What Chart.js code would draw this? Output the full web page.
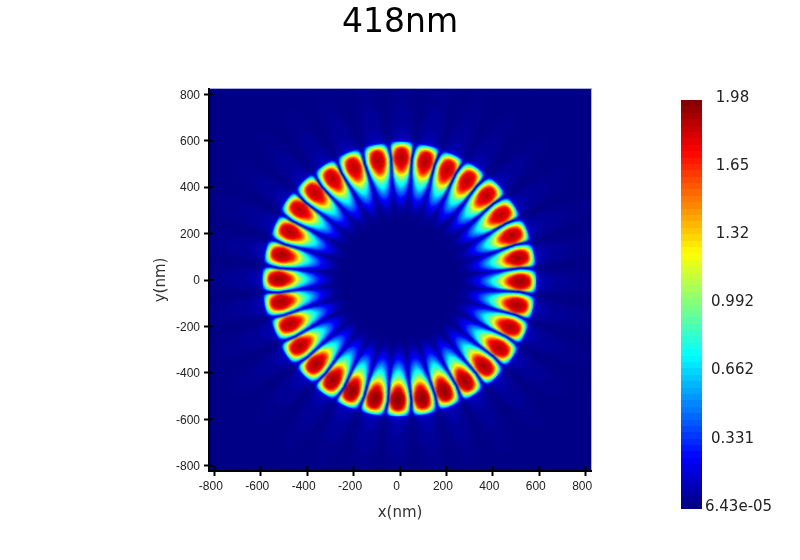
<!DOCTYPE html>
<html>
<head>
<meta charset="utf-8">
<title>418nm</title>
<script src="https://cdn.jsdelivr.net/npm/chart.js@4/dist/chart.umd.min.js"></script>
<style>
  html, body { margin: 0; background: #fff; }
  #wrap { position: relative; width: 800px; height: 560px; overflow: hidden; }
  #mapChart { position: absolute; left: 0; top: 0; }
  #barChart { position: absolute; left: 681px; top: 80px; }
</style>
</head>
<body>
<div id="wrap">
  <canvas id="mapChart" width="800" height="560"></canvas>
  <canvas id="barChart" width="110" height="440"></canvas>
</div>
<script>
'use strict';

/* ── DATA: the 32 lobes, clockwise from the top ── */
const lobeX = [6, 108, 203, 289, 371, 434, 481, 509, 517, 504, 474, 427, 362, 280, 190, 95,
  -9, -108, -207, -289, -362, -431, -474, -513, -522, -509, -474, -431, -366, -289, -198, -95];
const lobeY = [526, 509, 474, 427, 362, 280, 191, 95, -7, -108, -203, -293, -371, -435, -478, -509,
  -517, -509, -478, -431, -362, -284, -190, -95, 4, 108, 207, 302, 375, 435, 483, 513];
const lobePeak = [1.9, 1.9, 1.88, 1.88, 1.88, 1.88, 1.9, 1.92, 1.94, 1.92, 1.9, 1.9, 1.92, 1.94, 1.96, 1.97,
  1.98, 1.97, 1.96, 1.94, 1.92, 1.9, 1.9, 1.92, 1.94, 1.92, 1.9, 1.88, 1.88, 1.88, 1.88, 1.9];

const xTicks = [-800, -600, -400, -200, 0, 200, 400, 600, 800];
const yTicks = [-800, -600, -400, -200, 0, 200, 400, 600, 800];
const colorTickValues = [1.98, 1.65, 1.32, 0.992, 0.662, 0.331, 0.0000643];
const colorTickLabels = ['1.98', '1.65', '1.32', '0.992', '0.662', '0.331', '6.43e-05'];
const colorMin = 0.0000643;
const colorMax = 1.98;

const AXIS_LIMIT = 823;
const LEVELS = 64;
const LABEL_FONT = "'DejaVu Sans', sans-serif";
const TICK_FONT = "'Liberation Sans', sans-serif";

/* ── JET COLOURMAP ── */
function clamp01(v) { return Math.max(0, Math.min(1, v)); }

function jet(t) {
  const lvl = Math.min(LEVELS - 1, Math.floor(clamp01(t) * LEVELS));
  const c = (lvl + 0.5) / LEVELS;
  return [
    Math.round(255 * clamp01(Math.min(4 * c - 1.5, -4 * c + 4.5))),
    Math.round(255 * clamp01(Math.min(4 * c - 0.5, -4 * c + 3.5))),
    Math.round(255 * clamp01(Math.min(4 * c + 0.5, -4 * c + 2.5)))
  ];
}

/* ── LOBE SPRITE: shape of one lobe, used as the point style ──
   each table turns a pixel distance into a contour index, the contour
   index gives the level, so the contours come out as rounded ovals */
const OUTER_RHO = [[0, 0], [8.5, 0.4], [10, 0.5], [11.5, 0.62], [13, 0.74], [14.2, 0.87], [15.5, 1], [17, 1.3], [19, 1.5], [30, 1.65], [60, 1.85], [110, 2.4]];
const INNER_RHO = [[0, 0], [8.5, 0.4], [12, 0.5], [15, 0.62], [18, 0.74], [22, 0.87], [28, 1], [34, 1.12], [41, 1.3], [52, 1.6], [70, 2.4]];
const SIDE_RHO = [[0, 0], [5.5, 0.4], [7, 0.5], [8.2, 0.62], [9.5, 0.74], [10.5, 0.87], [11.5, 1], [13, 1.3], [14.5, 1.6], [17, 2.4]];
const LEVEL_OF_RHO = [[0, 1], [0.4, 0.94], [0.5, 0.875], [0.62, 0.75], [0.74, 0.625], [0.87, 0.5], [1, 0.375], [1.12, 0.25], [1.3, 0.125], [1.5, 0.07], [1.65, 0.05], [1.85, 0.03], [2.4, 0]];

function lookup(table, d) {
  for (let i = 1; i < table.length; i++) {
    if (d <= table[i][0]) {
      const [x0, y0] = table[i - 1];
      const [x1, y1] = table[i];
      return y0 + (y1 - y0) * (d - x0) / (x1 - x0);
    }
  }
  return table[table.length - 1][1];
}

const spriteCache = {};

function lobeSprite(peak) {
  if (spriteCache[peak]) return spriteCache[peak];
  const cv = document.createElement('canvas');
  cv.width = 72;
  cv.height = 230;
  const c = cv.getContext('2d');
  const img = c.createImageData(cv.width, cv.height);
  for (let py = 0; py < cv.height; py++) {
    for (let px = 0; px < cv.width; px++) {
      const u = cv.height / 2 - py - 0.5;
      const w = Math.abs(px + 0.5 - cv.width / 2);
      const ru = u >= 0 ? lookup(OUTER_RHO, u) : lookup(INNER_RHO, -u);
      const wedge = u >= 0 ? 1 : Math.max(0.3, 1 + u / 110);
      const rw = w / wedge > 17 ? 9 : lookup(SIDE_RHO, w / wedge);
      const val = lookup(LEVEL_OF_RHO, Math.hypot(ru, rw)) * peak / colorMax;
      const rgb = jet(val);
      const k = (py * cv.width + px) * 4;
      img.data[k] = rgb[0];
      img.data[k + 1] = rgb[1];
      img.data[k + 2] = rgb[2];
      img.data[k + 3] = Math.round(255 * clamp01(val / 0.08));
    }
  }
  c.putImageData(img, 0, 0);
  spriteCache[peak] = cv;
  return cv;
}

/* ── PLOT BACKGROUND AND INNER TICK HALVES ── */
const plotDecor = {
  id: 'plotDecor',
  beforeDatasetsDraw(chart) {
    const { ctx, chartArea: a } = chart;
    const base = jet(0);
    ctx.save();
    ctx.fillStyle = `rgb(${base[0]},${base[1]},${base[2]})`;
    ctx.fillRect(a.left, a.top, a.right - a.left, a.bottom - a.top);
    ctx.restore();
  },
  afterDatasetsDraw(chart) {
    const { ctx, chartArea: a, scales } = chart;
    ctx.save();
    ctx.strokeStyle = '#a9a9e6';
    ctx.lineWidth = 1;
    ctx.beginPath();
    ctx.moveTo(a.left, a.top - 0.5);
    ctx.lineTo(a.right + 0.5, a.top - 0.5);
    ctx.lineTo(a.right + 0.5, a.bottom);
    ctx.stroke();
    ctx.strokeStyle = '#000';
    ctx.lineWidth = 2;
    ctx.beginPath();
    xTicks.forEach(v => {
      const px = scales.x.getPixelForValue(v);
      ctx.moveTo(px, a.bottom);
      ctx.lineTo(px, a.bottom - 5);
    });
    yTicks.forEach(v => {
      const py = scales.y.getPixelForValue(v);
      ctx.moveTo(a.left, py);
      ctx.lineTo(a.left + 4, py);
    });
    ctx.stroke();
    ctx.restore();
  }
};

/* ── MAIN MAP ── */
new Chart(document.getElementById('mapChart'), {
  type: 'scatter',
  plugins: [plotDecor],
  data: {
    datasets: [{
      data: lobeX.map((x, i) => ({ x: x, y: lobeY[i] })),
      clip: 0,
      pointRadius: 5,
      pointStyle: ctx => lobeSprite(lobePeak[ctx.dataIndex]),
      rotation: ctx => Math.atan2(lobeX[ctx.dataIndex], lobeY[ctx.dataIndex]) * 180 / Math.PI
    }]
  },
  options: {
    responsive: false,
    animation: false,
    events: [],
    // equal side padding keeps the title centred on the page; spacer axis fills the rest
    layout: { padding: { left: 152, right: 152, top: 0, bottom: 38 } },
    plugins: {
      legend: { display: false },
      tooltip: { enabled: false },
      title: {
        display: true,
        text: '418nm',
        color: '#000',
        font: { family: LABEL_FONT, size: 33, weight: 'normal', lineHeight: 1.2 },
        padding: { top: 4, bottom: 45.4 }
      }
    },
    scales: {
      x: {
        type: 'linear',
        min: -AXIS_LIMIT,
        max: AXIS_LIMIT,
        afterBuildTicks: s => { s.ticks = xTicks.map(v => ({ value: v })); },
        afterFit: s => { s.height = 51; },
        grid: { drawOnChartArea: false, tickLength: 5, tickWidth: 2, tickColor: '#000', z: 1 },
        border: { color: '#000', width: 2, z: 1 },
        ticks: { color: '#222', font: { family: TICK_FONT, size: 12 }, padding: 3, maxRotation: 0, labelOffset: -3.5 },
        title: { display: true, text: 'x(nm)', color: '#333', font: { family: LABEL_FONT, size: 15 }, padding: 0 }
      },
      y: {
        type: 'linear',
        min: -AXIS_LIMIT,
        max: AXIS_LIMIT,
        afterBuildTicks: s => { s.ticks = yTicks.map(v => ({ value: v })); },
        afterFit: s => { s.width = 57; },
        grid: { drawOnChartArea: false, tickLength: 5, tickWidth: 2, tickColor: '#000', z: 1 },
        border: { color: '#000', width: 2, z: 1 },
        ticks: { color: '#222', font: { family: TICK_FONT, size: 12 }, padding: 4, labelOffset: 1 },
        title: { display: true, text: 'y(nm)', color: '#333', font: { family: LABEL_FONT, size: 15 }, padding: 0 }
      },
      spacer: {
        type: 'linear',
        position: 'right',
        afterBuildTicks: s => { s.ticks = []; },
        afterFit: s => { s.width = 57; },
        grid: { display: false },
        border: { display: false },
        ticks: { display: false }
      }
    }
  }
});

/* ── COLOUR BAR ── */
function barGradient(ctx) {
  const a = ctx.chart.chartArea;
  if (!a) return '#000';
  const g = ctx.chart.ctx.createLinearGradient(0, a.bottom, 0, a.top);
  for (let i = 0; i < LEVELS; i++) {
    const rgb = jet((i + 0.5) / LEVELS);
    const col = `rgb(${rgb[0]},${rgb[1]},${rgb[2]})`;
    g.addColorStop(i / LEVELS, col);
    g.addColorStop((i + 1) / LEVELS, col);
  }
  return g;
}

const barLabels = {
  id: 'barLabels',
  afterDraw(chart) {
    const { ctx, chartArea: a, scales } = chart;
    ctx.save();
    ctx.fillStyle = '#222';
    ctx.font = '15px ' + LABEL_FONT;
    ctx.textAlign = 'center';
    ctx.textBaseline = 'middle';
    colorTickValues.forEach((v, i) => {
      const half = ctx.measureText(colorTickLabels[i]).width / 2;
      ctx.fillText(colorTickLabels[i], Math.max(a.right + 30.5, a.right + 3 + half), scales.y.getPixelForValue(v) - 2);
    });
    ctx.restore();
  }
};

new Chart(document.getElementById('barChart'), {
  type: 'bar',
  plugins: [barLabels],
  data: {
    labels: ['scale'],
    datasets: [{
      data: [[colorMin, colorMax]],
      backgroundColor: barGradient,
      barPercentage: 1,
      categoryPercentage: 1
    }]
  },
  options: {
    responsive: false,
    animation: false,
    events: [],
    layout: { padding: { left: 0, right: 89, top: 20, bottom: 11 } },
    plugins: { legend: { display: false }, tooltip: { enabled: false } },
    scales: {
      x: { display: false },
      y: { display: false, min: colorMin, max: colorMax }
    }
  }
});
</script>
</body>
</html>
